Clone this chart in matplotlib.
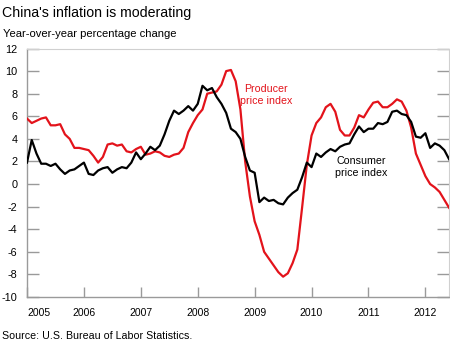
"""China CPI vs PPI year-over-year change, 2005 to mid-2012."""

import matplotlib.pyplot as plt
import numpy as np

plt.rcParams["font.family"] = ["Liberation Sans", "DejaVu Sans"]

# Monthly values, Jan 2005 .. Jun 2012
cpi = [
    1.9, 3.9, 2.7, 1.8, 1.8, 1.6, 1.8, 1.3, 0.9, 1.2, 1.3, 1.6,
    1.9, 0.9, 0.8, 1.2, 1.4, 1.5, 1.0, 1.3, 1.5, 1.4, 1.9, 2.8,
    2.2, 2.7, 3.3, 3.0, 3.4, 4.4, 5.6, 6.5, 6.2, 6.5, 6.9, 6.5,
    7.1, 8.7, 8.3, 8.5, 7.7, 7.1, 6.3, 4.9, 4.6, 4.0, 2.4, 1.2,
    1.0, -1.6, -1.2, -1.5, -1.4, -1.7, -1.8, -1.2, -0.8, -0.5, 0.6, 1.9,
    1.5, 2.7, 2.4, 2.8, 3.1, 2.9, 3.3, 3.5, 3.6, 4.4, 5.1, 4.6,
    4.9, 4.9, 5.4, 5.3, 5.5, 6.4, 6.5, 6.2, 6.1, 5.5, 4.2, 4.1,
    4.5, 3.2, 3.6, 3.4, 3.0, 2.2,
]
ppi = [
    5.8, 5.4, 5.6, 5.8, 5.9, 5.2, 5.2, 5.3, 4.4, 4.0, 3.2, 3.2,
    3.1, 3.0, 2.5, 1.9, 2.4, 3.5, 3.6, 3.4, 3.5, 2.9, 2.8, 3.1,
    3.3, 2.6, 2.7, 2.9, 2.8, 2.5, 2.4, 2.6, 2.7, 3.2, 4.6, 5.4,
    6.1, 6.6, 8.0, 8.1, 8.2, 8.8, 10.0, 10.1, 9.1, 6.6, 2.0, -1.1,
    -3.3, -4.5, -6.0, -6.6, -7.2, -7.8, -8.2, -7.9, -7.0, -5.8, -2.1, 1.7,
    4.3, 5.4, 5.9, 6.8, 7.1, 6.4, 4.8, 4.3, 4.3, 5.0, 6.1, 5.9,
    6.6, 7.2, 7.3, 6.8, 6.8, 7.1, 7.5, 7.3, 6.5, 5.0, 2.7, 1.7,
    0.7, 0.0, -0.3, -0.7, -1.4, -2.1,
]
years = [2005, 2006, 2007, 2008, 2009, 2010, 2011, 2012]
y_ticks = [-10, -8, -6, -4, -2, 0, 2, 4, 6, 8, 10, 12]

months = np.arange(len(cpi)) / 12.0 + years[0]

fig = plt.figure(figsize=(4.5, 3.44), dpi=100)
ax = fig.add_axes([0.06, 0.1366, 0.938, 0.7224])

ax.plot(months, ppi, color="#e3131b", linewidth=1.6, zorder=3)
ax.plot(months, cpi, color="black", linewidth=1.6, zorder=4)

ax.set_xlim(years[0], months[-1])
ax.set_ylim(-10, 12)
ax.set_yticks(y_ticks)
ax.set_yticklabels([str(v) for v in y_ticks])
ax.set_xticks(years)
ax.set_xticklabels([str(y) for y in years])
ax.get_xticklabels()[0].set_horizontalalignment("left")

grey = "#9a9a9a"
for side in ["left", "bottom"]:
    ax.spines[side].set_color(grey)
    ax.spines[side].set_linewidth(1.0)
for side in ["top", "right"]:
    ax.spines[side].set_color("#d0d0d0")
    ax.spines[side].set_linewidth(0.8)

ax.tick_params(axis="y", direction="in", length=8.5, width=1.0, color=grey,
               labelsize=7.8, pad=7, right=True)
ax.tick_params(axis="x", direction="in", length=7.5, width=1.0, color=grey,
               labelsize=7.5, pad=8)

ax.text(2009.2, 7.85, "Producer\nprice index", color="#e3131b", fontsize=7.7,
        ha="center", va="center", linespacing=1.25)
ax.text(2010.88, 1.55, "Consumer\nprice index", color="black", fontsize=7.7,
        ha="center", va="center", linespacing=1.25)

fig.text(0.004, 0.962, "China's inflation is moderating", fontsize=10.2,
         ha="left", va="center")
fig.text(0.006, 0.900, "Year-over-year percentage change", fontsize=8.1,
         ha="left", va="center")
fig.text(0.004, 0.022, "Source: U.S. Bureau of Labor Statistics.", fontsize=7.7,
         ha="left", va="center")

fig.savefig("out.png", dpi=100)
